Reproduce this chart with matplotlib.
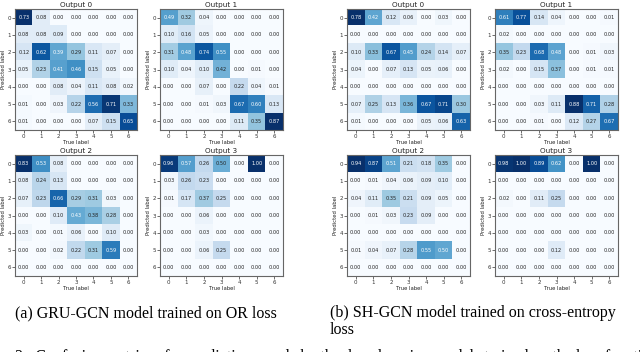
import numpy as np
import matplotlib
matplotlib.use("Agg")
import matplotlib.pyplot as plt

labels = [0, 1, 2, 3, 4, 5, 6]

gru_out0 = [[0.73, 0.08, 0.00, 0.00, 0.00, 0.00, 0.00],
            [0.08, 0.08, 0.09, 0.00, 0.00, 0.00, 0.00],
            [0.12, 0.62, 0.39, 0.29, 0.11, 0.07, 0.00],
            [0.05, 0.23, 0.41, 0.46, 0.15, 0.05, 0.00],
            [0.00, 0.00, 0.08, 0.04, 0.11, 0.08, 0.02],
            [0.01, 0.00, 0.03, 0.22, 0.56, 0.71, 0.33],
            [0.01, 0.00, 0.00, 0.00, 0.07, 0.15, 0.65]]
gru_out1 = [[0.49, 0.32, 0.04, 0.00, 0.00, 0.00, 0.00],
            [0.10, 0.16, 0.05, 0.00, 0.00, 0.00, 0.00],
            [0.31, 0.48, 0.74, 0.55, 0.00, 0.00, 0.00],
            [0.10, 0.04, 0.10, 0.42, 0.00, 0.01, 0.00],
            [0.00, 0.00, 0.07, 0.00, 0.22, 0.04, 0.01],
            [0.00, 0.00, 0.01, 0.03, 0.67, 0.60, 0.13],
            [0.00, 0.00, 0.00, 0.00, 0.11, 0.35, 0.87]]
gru_out2 = [[0.83, 0.53, 0.08, 0.00, 0.00, 0.00, 0.00],
            [0.08, 0.24, 0.13, 0.00, 0.00, 0.00, 0.00],
            [0.07, 0.23, 0.66, 0.29, 0.31, 0.03, 0.00],
            [0.00, 0.00, 0.10, 0.43, 0.38, 0.28, 0.00],
            [0.03, 0.00, 0.01, 0.06, 0.00, 0.10, 0.00],
            [0.00, 0.00, 0.02, 0.22, 0.31, 0.59, 0.00],
            [0.00, 0.00, 0.00, 0.00, 0.00, 0.00, 0.00]]
gru_out3 = [[0.96, 0.57, 0.26, 0.50, 0.00, 1.00, 0.00],
            [0.03, 0.26, 0.23, 0.00, 0.00, 0.00, 0.00],
            [0.01, 0.17, 0.37, 0.25, 0.00, 0.00, 0.00],
            [0.00, 0.00, 0.06, 0.00, 0.00, 0.00, 0.00],
            [0.00, 0.00, 0.03, 0.00, 0.00, 0.00, 0.00],
            [0.00, 0.00, 0.06, 0.25, 0.00, 0.00, 0.00],
            [0.00, 0.00, 0.00, 0.00, 0.00, 0.00, 0.00]]
sh_out0 = [[0.78, 0.42, 0.12, 0.06, 0.00, 0.03, 0.00],
           [0.00, 0.00, 0.00, 0.00, 0.00, 0.00, 0.00],
           [0.10, 0.33, 0.67, 0.45, 0.24, 0.14, 0.07],
           [0.04, 0.00, 0.07, 0.13, 0.05, 0.06, 0.00],
           [0.00, 0.00, 0.00, 0.00, 0.00, 0.00, 0.00],
           [0.07, 0.25, 0.13, 0.36, 0.67, 0.71, 0.30],
           [0.01, 0.00, 0.00, 0.00, 0.05, 0.06, 0.63]]
sh_out1 = [[0.61, 0.77, 0.14, 0.04, 0.00, 0.00, 0.01],
           [0.02, 0.00, 0.00, 0.00, 0.00, 0.00, 0.00],
           [0.35, 0.23, 0.68, 0.48, 0.00, 0.01, 0.03],
           [0.02, 0.00, 0.15, 0.37, 0.00, 0.01, 0.01],
           [0.00, 0.00, 0.00, 0.00, 0.00, 0.00, 0.00],
           [0.00, 0.00, 0.03, 0.11, 0.88, 0.71, 0.28],
           [0.00, 0.00, 0.01, 0.00, 0.12, 0.27, 0.67]]
sh_out2 = [[0.94, 0.87, 0.51, 0.21, 0.18, 0.35, 0.00],
           [0.00, 0.01, 0.04, 0.06, 0.09, 0.10, 0.00],
           [0.04, 0.11, 0.35, 0.21, 0.09, 0.05, 0.00],
           [0.00, 0.01, 0.03, 0.23, 0.09, 0.00, 0.00],
           [0.00, 0.00, 0.00, 0.00, 0.00, 0.00, 0.00],
           [0.01, 0.04, 0.07, 0.28, 0.55, 0.50, 0.00],
           [0.00, 0.00, 0.00, 0.00, 0.00, 0.00, 0.00]]
sh_out3 = [[0.98, 1.00, 0.89, 0.62, 0.00, 1.00, 0.00],
           [0.00, 0.00, 0.00, 0.00, 0.00, 0.00, 0.00],
           [0.02, 0.00, 0.11, 0.25, 0.00, 0.00, 0.00],
           [0.00, 0.00, 0.00, 0.00, 0.00, 0.00, 0.00],
           [0.00, 0.00, 0.00, 0.00, 0.00, 0.00, 0.00],
           [0.00, 0.00, 0.00, 0.12, 0.00, 0.00, 0.00],
           [0.00, 0.00, 0.00, 0.00, 0.00, 0.00, 0.00]]

titles = ["Output 0", "Output 1", "Output 2", "Output 3"]
caption_a = "(a) GRU-GCN model trained on OR loss"
caption_b1 = "(b) SH-GCN model trained on cross-entropy"
caption_b2 = "loss"
fig_caption = ("2:  Confusion matrices for predictions made by the deep learning models "
               "trained on the loss functions OR loss and (GRU-GCN")

W, H = 640, 352
fig = plt.figure(figsize=(W / 100, H / 100), dpi=100)

# pixel boxes (left, top, width, height)
boxes = [
    (gru_out0, 0, (15, 9, 122, 121)),
    (gru_out1, 1, (160, 9, 123, 121)),
    (gru_out2, 2, (15, 155, 122, 121)),
    (gru_out3, 3, (160, 155, 123, 121)),
    (sh_out0, 0, (347, 9, 123, 121)),
    (sh_out1, 1, (495, 9, 123, 121)),
    (sh_out2, 2, (347, 155, 123, 121)),
    (sh_out3, 3, (495, 155, 123, 121)),
]

for data, ti, (l, t, w, h) in boxes:
    cm = np.array(data)
    ax = fig.add_axes([l / W, 1 - (t + h) / H, w / W, h / H])
    ax.imshow(cm, cmap="Blues", aspect="auto", interpolation="nearest")
    thresh = cm.max() / 2.0
    for i in range(cm.shape[0]):
        for j in range(cm.shape[1]):
            ax.text(j, i, f"{cm[i, j]:.2f}", ha="center", va="center", fontsize=3.6,
                    color="white" if cm[i, j] > thresh else "#222222")
    ax.set_xticks(range(len(labels)))
    ax.set_yticks(range(len(labels)))
    ax.set_xticklabels(labels, fontsize=4)
    ax.set_yticklabels(labels, fontsize=4)
    ax.tick_params(length=2, width=0.5, pad=1, colors="#333333")
    ax.set_title(titles[ti], fontsize=5.2, pad=1.2, color="#222222")
    ax.set_xlabel("True label", fontsize=3.8, labelpad=0.5, color="#222222")
    ax.set_ylabel("Predicted label", fontsize=3.8, labelpad=1, color="#222222")
    for s in ax.spines.values():
        s.set_linewidth(0.8)
        s.set_color("#666666")

serif = ["Liberation Serif", "DejaVu Serif"]
fig.text(15 / W, 1 - 313 / H, caption_a, fontsize=11.5, family=serif, va="center", ha="left")
fig.text(330 / W, 1 - 313 / H, caption_b1, fontsize=11.5, family=serif, va="center", ha="left")
fig.text(330 / W, 1 - 330 / H, caption_b2, fontsize=11.5, family=serif, va="center", ha="left")
fig.text(15 / W, 1 - 357 / H, fig_caption, fontsize=11.5, family=serif, va="center", ha="left")

fig.savefig("out.png", dpi=100)
